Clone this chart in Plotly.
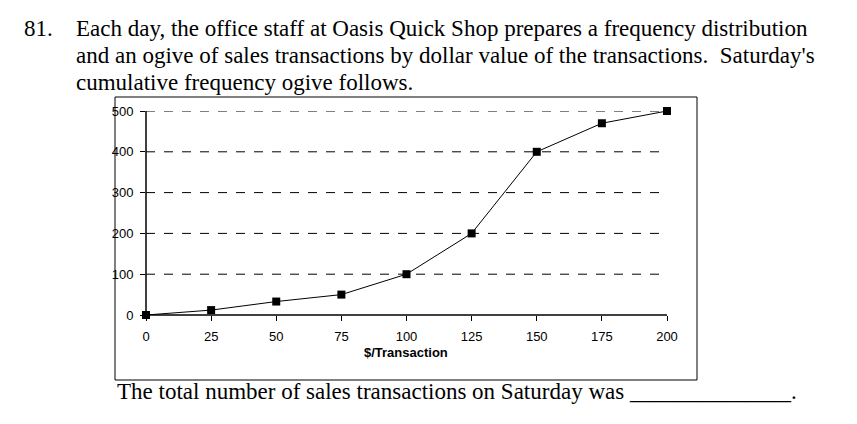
import plotly.graph_objects as go

# Saturday ogive data
dollars = [0, 25, 50, 75, 100, 125, 150, 175, 200]
cum_freq = [0, 12, 33, 50, 100, 200, 400, 470, 500]
x_ticks = [0, 25, 50, 75, 100, 125, 150, 175, 200]
y_ticks = [0, 100, 200, 300, 400, 500]

W, H = 857, 424
OFF = 8  # page body margin
L, R, T, B = 146 - OFF, 667 - OFF, 111 - OFF, 315 - OFF  # plot area in pixels


def px(x):
    return (x - OFF - L) / (R - L)


def py(y):
    return (B - (y - OFF)) / (B - T)


fig = go.Figure()
fig.add_trace(go.Scatter(
    x=dollars, y=cum_freq, mode="lines+markers",
    line=dict(color="black", width=1),
    marker=dict(symbol="square", size=8, color="black"),
    cliponaxis=False, showlegend=False
))

tick_font = dict(family="Arial", size=13, color="black")
fig.update_xaxes(range=[0, 200], tickvals=x_ticks, showgrid=False, zeroline=False,
                 showline=False, ticks="outside", ticklen=5, tickcolor="black",
                 tickfont=tick_font, ticklabelstandoff=4)
fig.update_yaxes(range=[0, 500], tickvals=y_ticks, showgrid=False, zeroline=False,
                 showline=False, ticks="outside", ticklen=5, tickcolor="black",
                 tickfont=tick_font, ticklabelstandoff=4)

# dashed grid lines
for v in y_ticks[1:]:
    fig.add_shape(type="line", xref="paper", yref="y", x0=0, x1=1, y0=v, y1=v,
                  line=dict(color="black", width=1, dash="dash"))
# axis lines
fig.add_shape(type="line", xref="paper", yref="paper", x0=0, x1=1, y0=0, y1=0,
              line=dict(color="black", width=1.5))
fig.add_shape(type="line", xref="paper", yref="paper", x0=0, x1=0, y0=0, y1=1,
              line=dict(color="black", width=1.5))
# chart frame
fig.add_shape(type="rect", xref="paper", yref="paper", x0=px(115), x1=px(697),
              y0=py(380), y1=py(97), line=dict(color="black", width=1))

times = dict(family="Liberation Serif, Times New Roman", size=23, color="black")
fig.add_annotation(text="<b>$/Transaction</b>", xref="paper", yref="paper", x=px(406), y=py(362),
                   showarrow=False, font=dict(family="Arial", size=13, color="black"))
fig.add_annotation(text="81.", xref="paper", yref="paper", x=px(22), y=py(14),
                   xanchor="left", showarrow=False, font=times)
lines = ["Each day, the office staff at Oasis Quick Shop prepares a frequency distribution",
         "and an ogive of sales transactions by dollar value of the transactions.  Saturday's",
         "cumulative frequency ogive follows."]
for i, s in enumerate(lines):
    fig.add_annotation(text=s, xref="paper", yref="paper", x=px(74), y=py(14 + 27 * i),
                       xanchor="left", showarrow=False, font=times)
fig.add_annotation(text="The total number of sales transactions on Saturday was ______________.",
                   xref="paper", yref="paper", x=px(115), y=py(406),
                   xanchor="left", showarrow=False, font=times)

fig.update_layout(width=W, height=H, margin=dict(l=L, r=W - R, t=T, b=H - B),
                  plot_bgcolor="white", paper_bgcolor="white")
fig.write_html("out.html")
